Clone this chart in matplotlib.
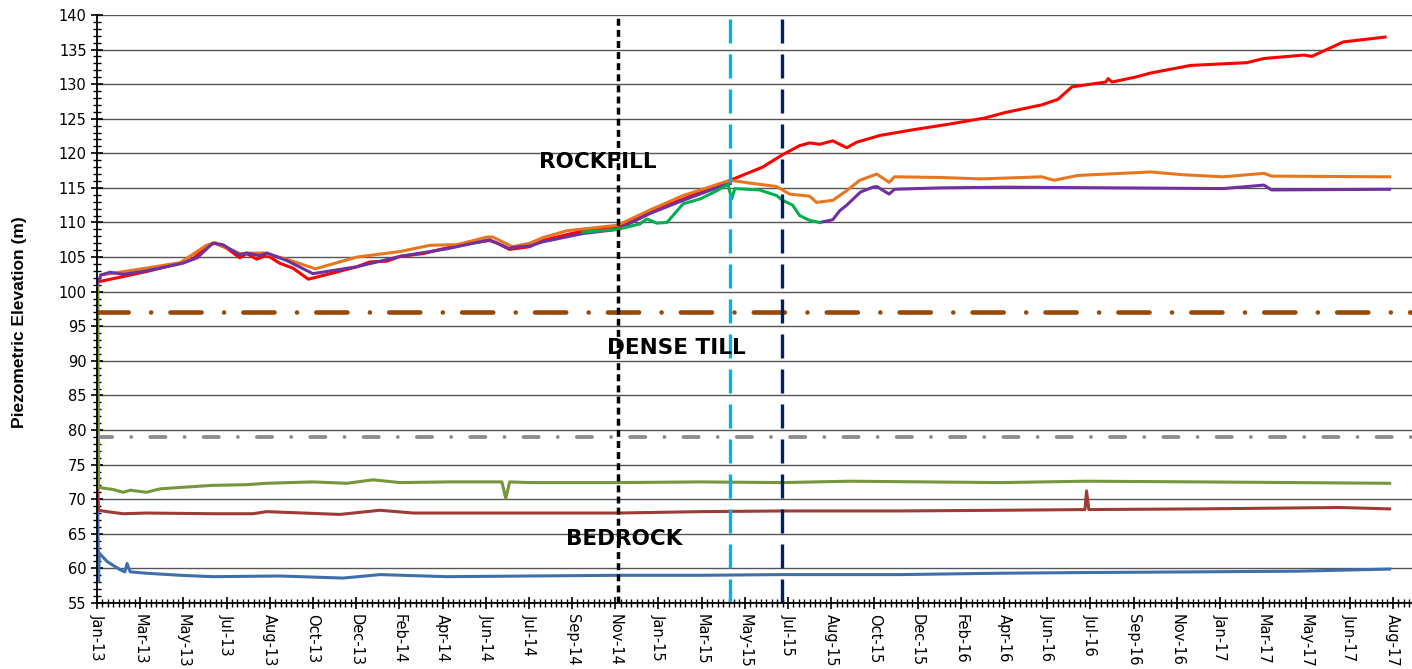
import numpy as np
import pandas as pd
import matplotlib
matplotlib.use("Agg")
import matplotlib.pyplot as plt
import matplotlib.dates as mdates

# ---- piezometer readings ----
red_dates = ["2013-01-22", "2013-03-22", "2013-05-05", "2013-05-21", "2013-06-08", "2013-06-19",
             "2013-07-04", "2013-07-21", "2013-07-30", "2013-08-12", "2013-08-25", "2013-09-11",
             "2013-09-28", "2013-10-18", "2013-11-19", "2013-12-20", "2014-01-06", "2014-01-28",
             "2014-02-14", "2014-03-16", "2014-04-07", "2014-05-06", "2014-06-10", "2014-06-20",
             "2014-07-06", "2014-08-01", "2014-08-18", "2014-10-09", "2014-11-23", "2015-01-04",
             "2015-02-16", "2015-04-18", "2015-05-30", "2015-06-25", "2015-07-17", "2015-07-30",
             "2015-08-12", "2015-08-29", "2015-09-16", "2015-09-29", "2015-10-30", "2015-12-11",
             "2016-01-26", "2016-03-13", "2016-04-09", "2016-05-26", "2016-06-16", "2016-07-04",
             "2016-08-17", "2016-08-20", "2016-08-25", "2016-09-24", "2016-10-14", "2016-12-05",
             "2017-02-16", "2017-03-10", "2017-05-01", "2017-05-11", "2017-06-21", "2017-08-14"]
red_vals = [101.5, 102.9, 104.1, 104.7, 106.6, 107.0,
            106.3, 104.9, 105.5, 104.7, 105.3, 104.1,
            103.4, 101.8, 102.7, 103.6, 104.3, 104.4,
            105.1, 105.5, 106.1, 106.8, 107.4, 107.0,
            106.1, 106.5, 107.4, 108.8, 109.2, 111.5,
            113.4, 116.1, 118.0, 119.8, 121.1, 121.5,
            121.3, 121.8, 120.8, 121.6, 122.6, 123.4,
            124.2, 125.1, 125.9, 127.0, 127.8, 129.6,
            130.3, 130.8, 130.3, 131.0, 131.6, 132.7,
            133.1, 133.7, 134.2, 134.0, 136.1, 136.8]

orange_dates = ["2013-01-22", "2013-03-22", "2013-05-05", "2013-06-08", "2013-06-19", "2013-07-21",
                "2013-08-20", "2013-09-20", "2013-10-27", "2013-12-20", "2014-02-14", "2014-03-25",
                "2014-04-29", "2014-06-07", "2014-06-14", "2014-07-06", "2014-07-10", "2014-08-01",
                "2014-08-18", "2014-09-18", "2014-11-23", "2015-01-04", "2015-02-16", "2015-04-18",
                "2015-05-13", "2015-06-17", "2015-07-04", "2015-07-30", "2015-08-08", "2015-08-29",
                "2015-09-16", "2015-10-03", "2015-10-25", "2015-11-10", "2015-11-17", "2016-01-16",
                "2016-03-08", "2016-05-26", "2016-06-11", "2016-07-12", "2016-10-14", "2016-11-25",
                "2017-01-16", "2017-03-10", "2017-03-20", "2017-08-20"]
orange_vals = [102.4, 103.4, 104.2, 106.7, 107.1, 105.5,
               105.6, 104.7, 103.3, 105.0, 105.8, 106.7,
               106.8, 107.9, 107.9, 106.7, 106.5, 107.0,
               107.8, 108.8, 109.6, 111.8, 113.9, 116.1,
               115.7, 115.2, 114.1, 113.8, 112.9, 113.2,
               114.6, 116.1, 117.0, 115.8, 116.6, 116.5,
               116.3, 116.6, 116.1, 116.8, 117.3, 116.9,
               116.6, 117.1, 116.7, 116.6]

purple_dates = ["2013-01-18", "2013-01-22", "2013-02-03", "2013-02-20", "2013-03-22", "2013-05-08",
                "2013-05-27", "2013-06-16", "2013-06-29", "2013-07-21", "2013-07-30", "2013-08-16",
                "2013-08-25", "2013-09-20", "2013-10-24", "2013-12-20", "2014-02-14", "2014-04-16",
                "2014-06-10", "2014-07-06", "2014-07-10", "2014-08-01", "2014-08-18", "2014-10-09",
                "2014-11-23", "2015-01-04", "2015-02-16", "2015-04-05", "2015-04-18", "2015-06-01",
                "2015-08-12", "2015-08-29", "2015-09-07", "2015-09-16", "2015-10-04", "2015-10-20",
                "2015-10-25", "2015-11-10", "2015-11-17", "2016-01-16", "2016-04-09", "2017-01-16",
                "2017-03-10", "2017-03-20", "2017-08-20"]
purple_vals = [101.2, 102.4, 102.8, 102.5, 103.0, 104.1,
               104.9, 107.0, 106.8, 105.3, 105.6, 105.2,
               105.6, 104.5, 102.6, 103.6, 105.1, 106.2,
               107.5, 106.2, 106.4, 106.6, 107.2, 108.4,
               109.0, 111.3, 113.2, 115.2, 115.6, np.nan,
               110.0, 110.4, 111.7, 112.5, 114.4, 115.1,
               115.2, 114.1, 114.8, 115.0, 115.1, 114.9,
               115.4, 114.7, 114.8]

green_dates = ["2014-10-09", "2014-11-23", "2014-12-22", "2014-12-31", "2015-01-13", "2015-01-26",
               "2015-02-16", "2015-03-10", "2015-04-01", "2015-04-15", "2015-04-20", "2015-04-24",
               "2015-05-26", "2015-06-17", "2015-06-25", "2015-07-08", "2015-07-17", "2015-07-30",
               "2015-08-12"]
green_vals = [108.6, 109.0, 109.8, 110.5, 109.9, 110.0,
              112.7, 113.4, 114.6, 115.5, 113.4, 114.9,
              114.7, 113.9, 113.2, 112.5, 111.0, 110.3,
              110.0]

olive_dates = ["2013-01-18", "2013-01-19", "2013-02-07", "2013-02-20", "2013-03-01", "2013-03-22",
               "2013-04-09", "2013-05-05", "2013-06-16", "2013-07-30", "2013-08-25", "2013-10-24",
               "2013-12-07", "2014-01-10", "2014-02-14", "2014-04-16", "2014-06-26", "2014-07-01",
               "2014-07-06", "2014-08-01", "2014-11-23", "2015-03-10", "2015-06-24", "2015-09-20",
               "2016-04-02", "2016-07-23", "2016-12-17", "2017-08-20"]
olive_vals = [101.0, 71.7, 71.4, 71.0, 71.3, 71.0,
              71.5, 71.7, 72.0, 72.1, 72.3, 72.5,
              72.3, 72.8, 72.4, 72.5, 72.5, 70.1,
              72.5, 72.4, 72.4, 72.5, 72.4, 72.6,
              72.4, 72.6, 72.5, 72.3]

brown_dates = ["2013-01-18", "2013-01-19", "2013-01-30", "2013-02-20", "2013-03-22", "2013-06-16",
               "2013-08-07", "2013-08-25", "2013-11-28", "2014-01-19", "2014-03-03", "2014-08-01",
               "2014-11-23", "2015-03-10", "2015-06-24", "2015-11-24", "2016-04-02", "2016-07-21",
               "2016-07-23", "2016-07-26", "2016-12-17", "2017-06-16", "2017-08-20"]
brown_vals = [71.7, 68.4, 68.2, 67.9, 68.0, 67.9,
              67.9, 68.2, 67.8, 68.4, 68.0, 68.0,
              68.0, 68.2, 68.3, 68.3, 68.4, 68.5,
              71.2, 68.5, 68.6, 68.8, 68.6]

blue_dates = ["2013-01-18", "2013-01-19", "2013-01-20", "2013-01-30", "2013-02-16", "2013-02-22",
              "2013-02-25", "2013-03-01", "2013-03-22", "2013-05-05", "2013-06-16", "2013-09-11",
              "2013-12-02", "2014-01-19", "2014-04-16", "2014-08-01", "2014-11-23", "2015-03-10",
              "2015-06-24", "2015-11-24", "2016-04-02", "2016-07-23", "2016-12-17", "2017-04-25",
              "2017-08-20"]
blue_vals = [68.1, 58.1, 62.2, 61.0, 59.8, 59.5,
             60.7, 59.5, 59.3, 59.0, 58.8, 58.9,
             58.6, 59.1, 58.8, 58.9, 59.0, 59.0,
             59.1, 59.1, 59.3, 59.4, 59.5, 59.6,
             59.9]

# layer boundaries and event dates
till_top = 97
bedrock_top = 79
event_dates = ["2014-11-23", "2015-04-18", "2015-06-24"]
event_colors = ["black", "#00B0F0", "#002060"]

start = pd.Timestamp("2013-01-17")
tick_dates = [start + pd.Timedelta(days=56 * k) for k in range(31)]
minor_dates = [start + pd.Timedelta(days=7 * k) for k in range(244)]

fig = plt.figure(figsize=(14.12, 6.69), dpi=100)
ax = fig.add_axes([0.0687, 0.0987, 0.9313, 0.879])

series = [
    (blue_dates, blue_vals, "#3F6FAA"),
    (brown_dates, brown_vals, "#9E3B36"),
    (olive_dates, olive_vals, "#77953D"),
    (red_dates, red_vals, "#FF0000"),
    (orange_dates, orange_vals, "#E8761F"),
    (purple_dates, purple_vals, "#7030A0"),
    (green_dates, green_vals, "#00B050"),
]
for d, v, c in series:
    ax.plot(pd.to_datetime(d), v, color=c, lw=2.2, solid_joinstyle="round", zorder=3)

ax.axhline(till_top, color="#984807", lw=3.3, dashes=(6.8, 4.9, 0.01, 4.2),
           dash_capstyle="round", zorder=4)
ax.axhline(bedrock_top, color="#8E8E8E", lw=2.8, dashes=(3.9, 4.9, 0.01, 4.9),
           dash_capstyle="round", zorder=4)

ax.axvline(pd.Timestamp(event_dates[0]), color=event_colors[0], lw=2.5, dashes=(2.0, 1.2), zorder=5)
for d, c in zip(event_dates[1:], event_colors[1:]):
    ax.axvline(pd.Timestamp(d), color=c, lw=2.4, dashes=(7.2, 3.3), zorder=5)

ax.text(pd.Timestamp("2014-10-28"), 118.7, "ROCKFILL", fontsize=15.5, fontweight="bold",
        ha="center", va="center", zorder=6)
ax.text(pd.Timestamp("2015-02-07"), 91.9, "DENSE TILL", fontsize=15.5, fontweight="bold",
        ha="center", va="center", zorder=6)
ax.text(pd.Timestamp("2014-12-01"), 64.2, "BEDROCK", fontsize=15.5, fontweight="bold",
        ha="center", va="center", zorder=6)

ax.set_xlim(start, start + pd.Timedelta(days=1705))
ax.set_ylim(55, 140)
ax.set_yticks(np.arange(55, 141, 5))
ax.set_yticks(np.arange(55, 141, 1), minor=True)
ax.set_xticks(tick_dates)
ax.set_xticks(minor_dates, minor=True)
ax.xaxis.set_major_formatter(mdates.DateFormatter("%b-%y"))

ax.yaxis.grid(True, color="#555555", lw=1.0, zorder=1)
ax.set_axisbelow(True)
for s in ["top", "right"]:
    ax.spines[s].set_visible(False)
for s in ["left", "bottom"]:
    ax.spines[s].set_linewidth(1.3)
    ax.spines[s].set_zorder(6)

ax.tick_params(axis="both", which="major", direction="inout", length=8, width=1.2, labelsize=10.5)
ax.tick_params(axis="both", which="minor", direction="inout", length=6, width=1.0)
ax.tick_params(axis="x", labelrotation=-90, pad=4)
for lab in ax.get_xticklabels():
    lab.set_ha("center")
    lab.set_va("top")

ax.set_ylabel("Piezometric Elevation (m)", family="Liberation Sans", fontweight="bold",
              fontsize=12.5)
ax.yaxis.set_label_coords(-0.053, 0.478)

fig.savefig("out.png", dpi=100)
